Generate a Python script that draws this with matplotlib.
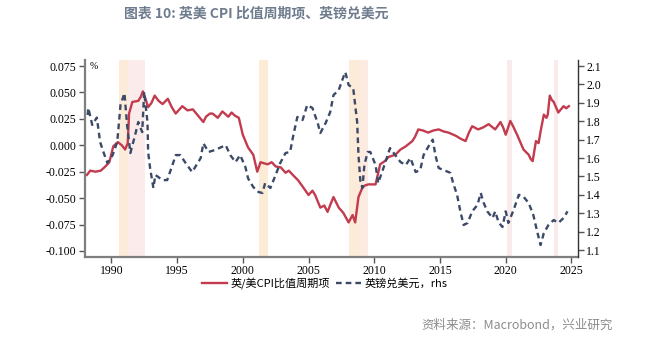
"""
UK/US CPI ratio cycle against GBP/USD, 1988-2024
"""
import numpy as np
import matplotlib.pyplot as plt
from matplotlib.ticker import FuncFormatter, MultipleLocator

# UK/US CPI ratio, cyclical component (lhs)
cpi_years = [1988.15, 1988.4, 1988.8, 1989.2, 1989.55, 1989.85, 1990.15, 1990.5, 1990.8, 1991.05,
             1991.25, 1991.35, 1991.6, 1992.05, 1992.25, 1992.4, 1992.6, 1992.8, 1993.05, 1993.3,
             1993.6, 1993.9, 1994.3, 1994.6, 1994.9, 1995.4, 1995.8, 1996.2, 1996.6, 1997.0,
             1997.2, 1997.5, 1997.7, 1998.1, 1998.45, 1998.9, 1999.15, 1999.4, 1999.7, 2000.0,
             2000.2, 2000.4, 2000.8, 2001.1, 2001.35, 2001.6, 2001.9, 2002.2, 2002.5, 2002.9,
             2003.25, 2003.5, 2003.8, 2004.2, 2004.55, 2005.0, 2005.3, 2005.5, 2005.9, 2006.2,
             2006.45, 2006.7, 2006.9, 2007.1, 2007.3, 2007.65, 2008.05, 2008.35, 2008.55, 2008.8,
             2009.1, 2009.3, 2009.55, 2010.1, 2010.45, 2010.8, 2011.1, 2011.6, 2012.0, 2012.4,
             2012.9, 2013.1, 2013.35, 2013.7, 2014.1, 2014.5, 2014.9, 2015.3, 2015.65, 2016.2,
             2016.6, 2016.95, 2017.2, 2017.45, 2017.9, 2018.3, 2018.7, 2019.0, 2019.2, 2019.6,
             2019.8, 2020.0, 2020.35, 2020.6, 2020.9, 2021.35, 2021.75, 2021.9, 2022.05, 2022.3,
             2022.5, 2022.65, 2022.9, 2023.1, 2023.2, 2023.35, 2023.5, 2023.65, 2024.0, 2024.2,
             2024.4, 2024.6, 2024.8]
cpi_ratio = [-0.028, -0.024, -0.025, -0.024, -0.020, -0.016, -0.001, 0.003, 0.000, -0.004,
             0.002, 0.030, 0.041, 0.042, 0.046, 0.051, 0.044, 0.036, 0.040, 0.047,
             0.042, 0.039, 0.044, 0.036, 0.030, 0.037, 0.033, 0.034, 0.028, 0.022,
             0.027, 0.030, 0.030, 0.026, 0.032, 0.027, 0.031, 0.028, 0.026, 0.010,
             0.004, -0.002, -0.009, -0.025, -0.016, -0.017, -0.018, -0.016, -0.020, -0.021,
             -0.026, -0.024, -0.028, -0.033, -0.039, -0.047, -0.043, -0.047, -0.059, -0.057,
             -0.063, -0.055, -0.049, -0.054, -0.059, -0.064, -0.073, -0.066, -0.073, -0.049,
             -0.040, -0.038, -0.037, -0.037, -0.018, -0.015, -0.011, -0.009, -0.004, -0.001,
             0.004, 0.008, 0.015, 0.014, 0.012, 0.014, 0.015, 0.013, 0.012, 0.009,
             0.006, 0.004, 0.012, 0.018, 0.015, 0.017, 0.020, 0.017, 0.015, 0.022,
             0.017, 0.010, 0.023, 0.017, 0.009, -0.004, -0.009, -0.013, -0.015, 0.004,
             0.002, 0.013, 0.029, 0.026, 0.029, 0.047, 0.043, 0.041, 0.031, 0.034,
             0.037, 0.035, 0.037]

# GBP/USD (rhs)
gbp_years = [1988.2, 1988.25, 1988.55, 1988.9, 1989.15, 1989.4, 1989.7, 1990.1, 1990.45, 1990.7,
             1991.0, 1991.2, 1991.45, 1991.85, 1992.05, 1992.35, 1992.5, 1992.75, 1992.8, 1992.95,
             1993.2, 1993.35, 1993.9, 1994.25, 1994.65, 1994.9, 1995.25, 1995.65, 1996.15, 1996.8,
             1997.0, 1997.4, 1997.9, 1998.7, 1999.05, 1999.45, 1999.8, 2000.2, 2000.4, 2000.8,
             2001.2, 2001.5, 2001.7, 2002.1, 2002.5, 2002.85, 2003.25, 2003.6, 2003.85, 2004.15,
             2004.55, 2004.9, 2005.3, 2005.7, 2005.9, 2006.3, 2006.65, 2006.9, 2007.3, 2007.65,
             2007.8, 2008.05, 2008.4, 2008.7, 2008.8, 2008.95, 2009.1, 2009.25, 2009.5, 2009.7,
             2010.1, 2010.3, 2010.7, 2011.2, 2011.6, 2012.0, 2012.4, 2012.75, 2013.15, 2013.5,
             2013.75, 2014.1, 2014.45, 2014.65, 2014.9, 2015.25, 2015.65, 2015.8, 2016.0, 2016.3,
             2016.55, 2016.8, 2017.1, 2017.45, 2017.85, 2018.1, 2018.3, 2018.6, 2019.0, 2019.2,
             2019.45, 2019.75, 2020.0, 2020.2, 2020.6, 2021.0, 2021.35, 2021.75, 2022.1, 2022.4,
             2022.65, 2022.9, 2023.25, 2023.65, 2024.0, 2024.4, 2024.7]
gbp_usd = [1.834, 1.872, 1.780, 1.820, 1.687, 1.633, 1.573, 1.616, 1.687, 1.888,
           1.953, 1.780, 1.627, 1.736, 1.796, 1.741, 1.959, 1.796, 1.633, 1.546,
           1.437, 1.508, 1.480, 1.480, 1.562, 1.616, 1.616, 1.573, 1.524, 1.600,
           1.680, 1.633, 1.644, 1.670, 1.616, 1.578, 1.616, 1.551, 1.490, 1.442,
           1.415, 1.410, 1.464, 1.437, 1.508, 1.573, 1.627, 1.633, 1.725, 1.823,
           1.807, 1.888, 1.872, 1.790, 1.736, 1.790, 1.850, 1.942, 1.970, 2.040,
           2.067, 1.997, 1.980, 1.796, 1.616, 1.470, 1.437, 1.562, 1.633, 1.633,
           1.562, 1.464, 1.546, 1.654, 1.616, 1.578, 1.562, 1.600, 1.524, 1.535,
           1.616, 1.660, 1.700, 1.616, 1.546, 1.535, 1.524, 1.518, 1.464, 1.400,
           1.310, 1.236, 1.247, 1.310, 1.345, 1.410, 1.360, 1.310, 1.274, 1.310,
           1.252, 1.225, 1.310, 1.247, 1.318, 1.400, 1.390, 1.355, 1.290, 1.198,
           1.127, 1.192, 1.236, 1.263, 1.247, 1.274, 1.310]

# recession bands: (start, end, colour)
bands = [(1990.55, 1992.6, '#fbeceb'), (1990.55, 1991.3, '#fcebd8'),
         (2001.25, 2001.95, '#fcecd6'),
         (2008.05, 2009.55, '#fbebe2'), (2008.05, 2009.0, '#fcebd8'),
         (2020.1, 2020.5, '#f9ebeb'), (2023.7, 2024.0, '#f9ebeb')]

RED = '#c23b4e'
NAVY = '#3c4a68'
CJK = ['Noto Sans CJK SC', 'DejaVu Sans']


def draw_chart():
    fig = plt.figure(figsize=(6.6, 3.37), dpi=100)
    ax = fig.add_axes([0.1288, 0.2374, 0.747, 0.5846])
    ax2 = ax.twinx()

    for start, end, colour in bands:
        ax.axvspan(start, end, color=colour, lw=0, zorder=0)

    red, = ax.plot(cpi_years, cpi_ratio, color=RED, lw=1.7, zorder=3)
    navy, = ax2.plot(gbp_years, gbp_usd, color=NAVY, lw=1.7, dashes=(2.4, 1.7))

    ax.set_xlim(1988.0, 2025.5)
    ax.set_ylim(-0.1057, 0.0807)
    ax2.set_ylim(1.062, 2.133)

    ax.xaxis.set_major_locator(MultipleLocator(5))
    ax.yaxis.set_major_locator(MultipleLocator(0.025))
    ax2.yaxis.set_major_locator(MultipleLocator(0.1))
    ax.yaxis.set_major_formatter(FuncFormatter(lambda v, p: f'{v:.3f}'.replace('\u2212', '-')))
    ax2.yaxis.set_major_formatter(FuncFormatter(lambda v, p: f'{v:.1f}'))

    for a in (ax, ax2):
        a.spines['top'].set_visible(False)
        for s in ('left', 'right', 'bottom'):
            a.spines[s].set_color('#7f7f7f')
            a.spines[s].set_linewidth(1.6)
        a.tick_params(length=4, width=1, color='#555555', labelsize=8.5, pad=2)
        for lbl in a.get_xticklabels() + a.get_yticklabels():
            lbl.set_fontfamily('Liberation Serif')
    ax.spines['right'].set_visible(False)
    ax2.spines['left'].set_visible(False)
    ax2.spines['bottom'].set_visible(False)
    ax2.spines['right'].set_color('#333333')
    ax2.spines['right'].set_linewidth(1.0)

    ax.text(1988.35, 0.075, '%', fontsize=7, family='Liberation Serif', va='center')

    fig.legend([red, navy], ['英/美CPI比值周期项', '英镑兑美元，rhs'],
               loc='center', bbox_to_anchor=(0.492, 0.16), ncol=2, frameon=False,
               prop={'family': CJK, 'size': 8}, handlelength=2.2, handletextpad=0.3,
               columnspacing=0.6)

    fig.text(0.388, 0.96, '图表 10: 英美 CPI 比值周期项、英镑兑美元', ha='center', va='center',
             fontsize=10, fontweight='bold', color='#6e7c8e', family=CJK)
    fig.text(0.928, 0.035, '资料来源：Macrobond，兴业研究', ha='right', va='center',
             fontsize=9, color='#8c8c8c', family=CJK)

    fig.savefig('out.png', dpi=100)


if __name__ == '__main__':
    draw_chart()
